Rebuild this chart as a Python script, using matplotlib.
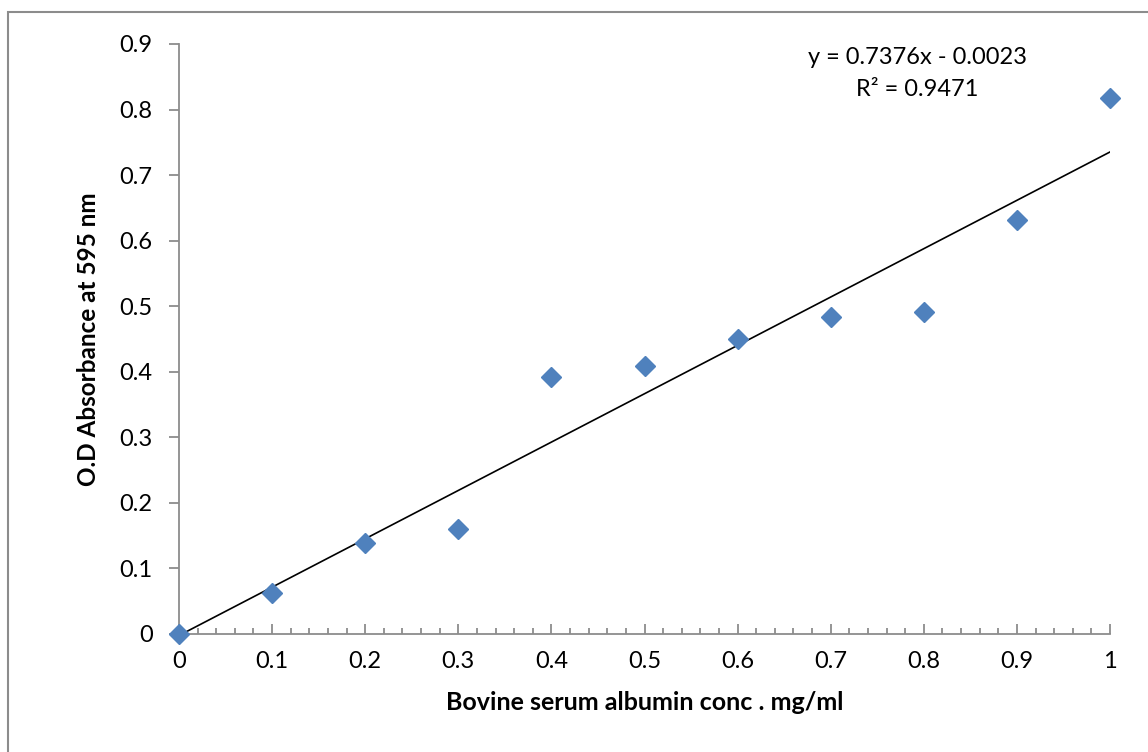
import matplotlib
matplotlib.use("Agg")
from matplotlib import pyplot as plt
from matplotlib.patches import Rectangle
import numpy as np

# data
conc = [0, 0.1, 0.2, 0.3, 0.4, 0.5, 0.6, 0.7, 0.8, 0.9, 1.0]
absorbance = [0, 0.063, 0.139, 0.160, 0.392, 0.409, 0.450, 0.484, 0.491, 0.632, 0.818]
slope = 0.7376
intercept = -0.0023
r2 = 0.9471
x_ticks = [0, 0.1, 0.2, 0.3, 0.4, 0.5, 0.6, 0.7, 0.8, 0.9, 1]
y_ticks = [0, 0.1, 0.2, 0.3, 0.4, 0.5, 0.6, 0.7, 0.8, 0.9]

plt.rcParams['font.family'] = ['Lato', 'DejaVu Sans']

fig = plt.figure(figsize=(11.48, 7.52), dpi=100)
# outer chart border
fig.patches.append(Rectangle((8 / 1148, -0.01), 1.0, 1 - 12 / 752 + 0.01,
                             transform=fig.transFigure, fill=False,
                             edgecolor='#8c8c8c', linewidth=1.5))

ax = fig.add_axes([179 / 1148, 1 - 634 / 752, (1110 - 179) / 1148, (634 - 44) / 752])

# trendline
xs = np.array([0, 1])
ax.plot(xs, slope * xs + intercept, color='black', linewidth=1.2, zorder=2)
# points
ax.plot(conc, absorbance, linestyle='none', marker='D', markersize=10.5,
        color='#4F81BD', markeredgecolor='#4F81BD', zorder=3, clip_on=False)

ax.set_xlim(0, 1)
ax.set_ylim(0, 0.9)
ax.set_xticks(x_ticks)
ax.set_xticklabels(['0', '0.1', '0.2', '0.3', '0.4', '0.5', '0.6', '0.7', '0.8', '0.9', '1'])
ax.set_xticks(np.arange(0, 1.001, 0.02), minor=True)
ax.set_yticks(y_ticks)
ax.set_yticklabels(['0', '0.1', '0.2', '0.3', '0.4', '0.5', '0.6', '0.7', '0.8', '0.9'])

for side in ['top', 'right']:
    ax.spines[side].set_visible(False)
for side in ['left', 'bottom']:
    ax.spines[side].set_color('#8c8c8c')
    ax.spines[side].set_linewidth(1.3)

ax.tick_params(axis='x', which='major', direction='in', length=7, width=1.3,
               color='#8c8c8c', labelsize=17, pad=12)
ax.tick_params(axis='x', which='minor', direction='in', length=4, width=1.3,
               color='#8c8c8c')
ax.tick_params(axis='y', which='major', direction='out', length=7, width=1.3,
               color='#8c8c8c', labelsize=17, pad=12)

ax.set_xlabel('Bovine serum albumin conc . mg/ml', fontsize=18, fontweight='bold', labelpad=14)
ax.set_ylabel('O.D Absorbance at 595 nm', fontsize=17.5, fontweight='bold', labelpad=14)

ax.text(0.793, 0.88, 'y = 0.7376x - 0.0023', fontsize=17, ha='center', va='center')
ax.text(0.793, 0.83, 'R² = 0.9471', fontsize=17, ha='center', va='center')

plt.savefig('out.png', dpi=100)
